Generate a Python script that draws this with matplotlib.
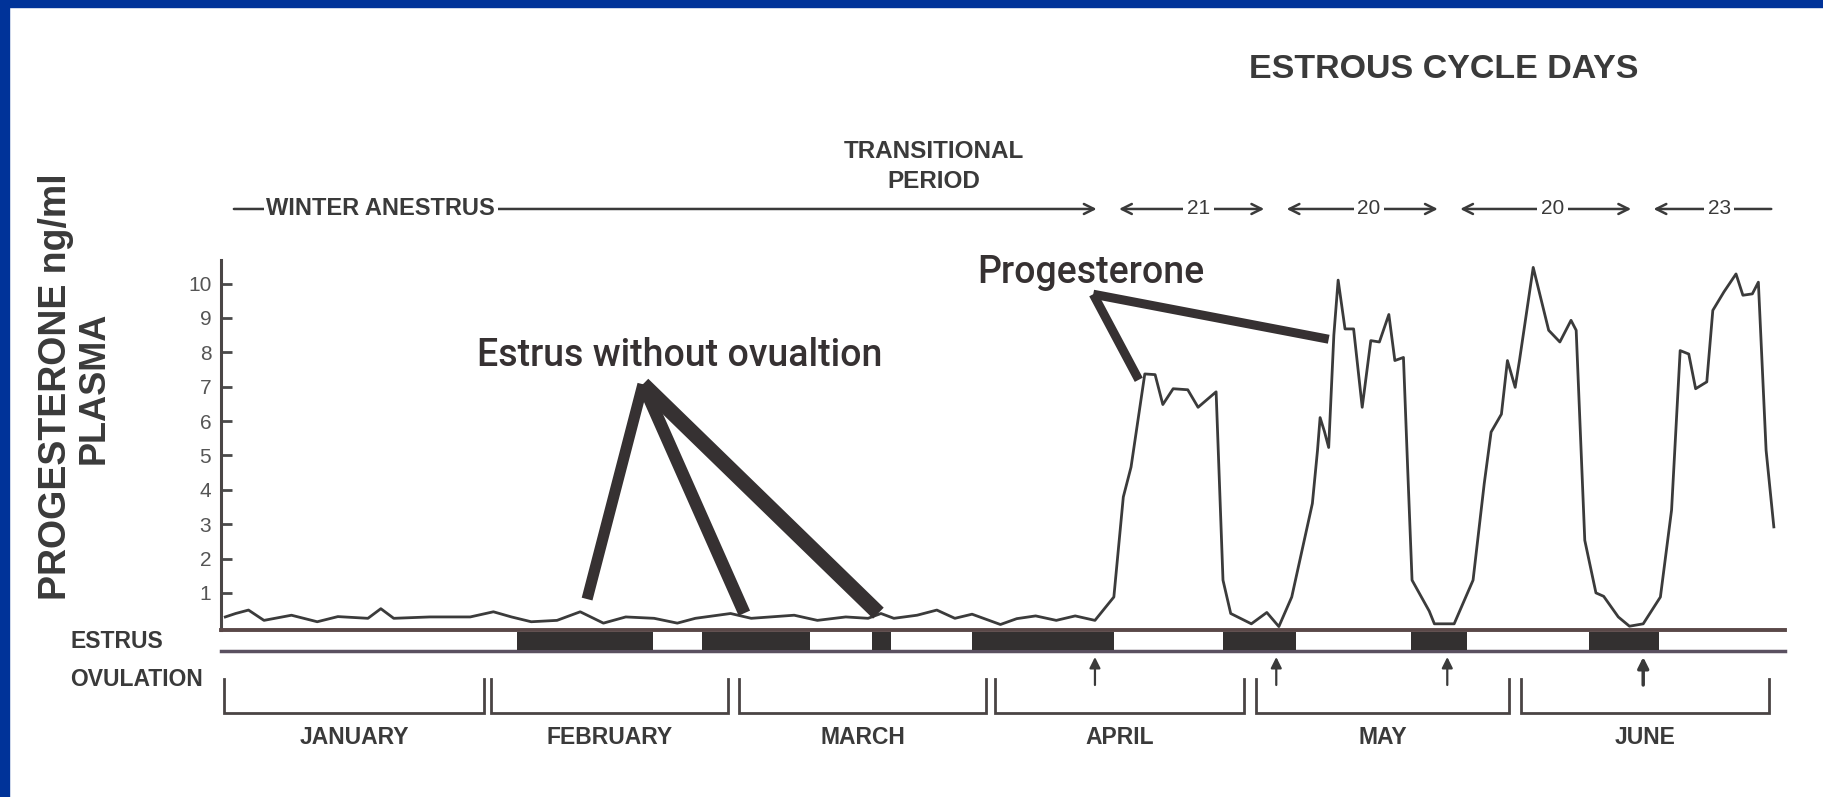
import matplotlib.pyplot as plt
from matplotlib.patches import Rectangle

# progesterone (ng/ml) by day, Jan 1 = day 0
days = [0.5, 1.7, 3.2, 5.0, 8.2, 11.2, 13.6, 17.1, 18.6, 20.1, 24.3, 29.0,
        31.7, 33.8, 36.1, 39.1, 41.8, 44.5, 47.1, 50.4, 53.1, 55.2, 59.3,
        61.7, 66.7, 69.4, 72.7, 75.3, 76.8, 78.3, 81.0, 83.3, 85.4, 87.4,
        90.7, 92.6, 94.8, 97.2, 99.4, 101.7, 103.9, 105.0, 105.9, 107.5,
        108.7, 109.6, 110.8, 112.5, 113.7, 115.8, 116.6, 117.5, 119.9,
        121.7, 123.1, 124.6, 127.0, 127.6, 127.9, 128.4, 128.9, 129.5,
        130.0, 130.8, 131.8, 132.8, 133.8, 134.8, 135.9, 136.6, 137.6,
        138.1, 138.6, 140.6, 141.2, 143.5, 145.7, 147.0, 147.8, 149.0,
        149.7, 150.6, 151.1, 152.7, 154.5, 155.8, 157.1, 157.7, 158.7,
        160.0, 160.9, 162.6, 163.9, 165.5, 167.5, 168.8, 169.8, 170.8,
        171.6, 172.9, 173.6, 174.9, 176.3, 177.1, 178.2, 178.9, 179.8, 180.7]
progesterone = [0.3, 0.4, 0.5, 0.2, 0.35, 0.16, 0.31, 0.26, 0.54, 0.26, 0.3, 0.3,
                0.45, 0.3, 0.16, 0.2, 0.45, 0.12, 0.3, 0.26, 0.12, 0.26, 0.4,
                0.26, 0.35, 0.2, 0.3, 0.26, 0.4, 0.26, 0.35, 0.5, 0.26, 0.38,
                0.08, 0.25, 0.33, 0.2, 0.33, 0.2, 0.88, 3.79, 4.66, 7.37,
                7.35, 6.48, 6.94, 6.91, 6.4, 6.85, 1.37, 0.4, 0.1,
                0.43, 0.02, 0.88, 3.6, 5.15, 6.1, 5.7, 5.23, 8.5,
                10.1, 8.68, 8.68, 6.4, 8.34, 8.3, 9.1, 7.76, 7.85,
                4.56, 1.37, 0.47, 0.1, 0.1, 1.37, 4.18, 5.68, 6.2,
                7.76, 6.98, 7.76, 10.47, 8.64, 8.3, 8.93, 8.64, 2.53,
                1.0, 0.9, 0.3, 0.03, 0.1, 0.88, 3.41, 8.05, 7.95,
                6.94, 7.14, 9.22, 9.76, 10.28, 9.66, 9.7, 10.04, 5.15, 2.92]

# estrus periods (start, end day)
estrus_start = [34.4, 56.0, 75.8, 87.4, 116.6, 138.5, 159.2]
estrus_end = [50.3, 68.5, 78.0, 103.9, 125.1, 145.0, 167.3]

ovulation_days = [101.7, 122.8, 142.7, 165.5]

months = ['JANUARY', 'FEBRUARY', 'MARCH', 'APRIL', 'MAY', 'JUNE']
month_lo = [0.4, 31.4, 60.3, 90.1, 120.4, 151.3]
month_hi = [30.6, 59.0, 89.0, 119.0, 149.9, 180.1]

cycle_bounds = [103.2, 122.7, 142.9, 165.4, 181.7]
cycle_days = ['21', '20', '20', '23']

# pointer lines (day, ng/ml)
estrus_hub = (49.1, 7.07)
estrus_tips = [(42.6, 0.82), (60.9, 0.41), (76.5, 0.41)]
prog_hub = (101.5, 9.69)
prog_tips = [(106.8, 7.2), (128.9, 8.38)]

W, H = 1823, 797
INK = '#363132'
TXT = '#3a3a3a'


def fx(px):
    return px / W


def fy(py):
    return 1 - py / H


fig = plt.figure(figsize=(W / 100, H / 100), dpi=100)
fig.patch.set_facecolor('white')
ax = fig.add_axes([fx(221), fy(630), (1785 - 221) / W, (630 - 259.5) / H])
ax.set_xlim(0, 182)
ax.set_ylim(-0.08, 10.7)

ax.plot(days, progesterone, color='#3b3b3b', lw=2.0, zorder=4)

for s in ['top', 'right']:
    ax.spines[s].set_visible(False)
ax.spines['left'].set_linewidth(2.2)
ax.spines['left'].set_color('#4a4646')
ax.spines['bottom'].set_linewidth(2.8)
ax.spines['bottom'].set_color('#5a4848')
ax.set_xticks([])
ax.set_yticks(range(1, 11))
ax.tick_params(axis='y', direction='in', length=8, width=2, colors='#4a4a4a',
               labelsize=15, pad=7, labelcolor='#555555')
for t in ax.get_yticklabels():
    t.set_family('Liberation Sans')

# estrus band
ax.plot([0, 182], [-0.69, -0.69], color='#5a5060', lw=2.5, clip_on=False)
ax.bar(estrus_start, 0.524,
       width=[e - s for s, e in zip(estrus_start, estrus_end)],
       bottom=-0.662, align='edge', color='#333030',
       clip_on=False, zorder=3)

# ovulation arrows
for i, d in enumerate(ovulation_days):
    ax.annotate('', xy=(d, -0.866), xytext=(d, -1.68),
                arrowprops=dict(arrowstyle='-|>', color='#3a3a3a',
                                lw=2.5 if i == 3 else 1.6, mutation_scale=16,
                                shrinkA=0, shrinkB=0),
                annotation_clip=False)

# month brackets
for name, lo, hi in zip(months, month_lo, month_hi):
    ax.plot([lo, lo, hi, hi], [-1.506, -2.495, -2.495, -1.506],
            color='#4a4444', lw=2.0, clip_on=False, solid_joinstyle='miter')
    ax.text((lo + hi) / 2, -3.22, name, ha='center', va='center',
            fontsize=16.5, fontweight='bold', color=TXT,
            family='Liberation Sans')

# pointer lines
for (x, y), lw in zip(estrus_tips, [8, 9, 11]):
    ax.plot([estrus_hub[0], x], [estrus_hub[1], y], color=INK, lw=lw,
            solid_capstyle='butt', zorder=5)
for x, y in prog_tips:
    ax.plot([prog_hub[0], x], [prog_hub[1], y], color=INK, lw=6.5,
            solid_capstyle='butt', zorder=5)

ax.text(29.8, 7.6, 'Estrus without ovualtion', fontsize=27, color=INK,
        family='Roboto', fontweight='medium', va='baseline', ha='left')
ax.text(88.0, 10.01, 'Progesterone', fontsize=27, color=INK,
        family='Roboto', fontweight='medium', va='baseline', ha='left',
        clip_on=False)

# period arrows across the top
ytop = 12.17
arrow_kw = dict(color='#3a3a3a', lw=1.8, shrinkA=0, shrinkB=0)
ax.annotate('', xy=(cycle_bounds[0] - 1.3, ytop), xytext=(1.5, ytop),
            arrowprops=dict(arrowstyle='->', mutation_scale=18, **arrow_kw),
            annotation_clip=False)
ax.text(18.6, ytop, 'WINTER ANESTRUS', ha='center', va='center',
        fontsize=17, fontweight='bold', color=TXT, family='Liberation Sans',
        bbox=dict(facecolor='white', edgecolor='none', pad=2), zorder=6)
for i, lab in enumerate(cycle_days):
    a, b = cycle_bounds[i] + 1.3, cycle_bounds[i + 1] - 1.3
    style = '<->' if i < len(cycle_days) - 1 else '<-'
    ax.annotate('', xy=(b, ytop), xytext=(a, ytop),
                arrowprops=dict(arrowstyle=style, mutation_scale=18, **arrow_kw),
                annotation_clip=False)
    ax.text((a + b) / 2 + 0.8, ytop, lab, ha='center', va='center',
            fontsize=15, color=TXT, family='Liberation Sans',
            bbox=dict(facecolor='white', edgecolor='none', pad=2.5), zorder=6)

# static labels
fig.text(fx(934), fy(151), 'TRANSITIONAL', ha='center', va='center',
         fontsize=17.5, fontweight='bold', color=TXT, family='Liberation Sans')
fig.text(fx(934), fy(182), 'PERIOD', ha='center', va='center',
         fontsize=17.5, fontweight='bold', color=TXT, family='Liberation Sans')
fig.text(fx(1444), fy(69), 'ESTROUS CYCLE DAYS', ha='center', va='center',
         fontsize=24.5, fontweight='bold', color=TXT, family='Liberation Sans')
fig.text(fx(56), fy(387), 'PROGESTERONE ng/ml', rotation=90, ha='center',
         va='center', fontsize=27, fontweight='bold', color=TXT,
         family='Liberation Sans')
fig.text(fx(94), fy(388), 'PLASMA', rotation=90, ha='center', va='center',
         fontsize=26, fontweight='bold', color=TXT, family='Liberation Sans')
fig.text(fx(70), fy(641), 'ESTRUS', ha='left', va='center', fontsize=16.5,
         fontweight='bold', color=TXT, family='Liberation Sans')
fig.text(fx(70), fy(679), 'OVULATION', ha='left', va='center', fontsize=16.5,
         fontweight='bold', color=TXT, family='Liberation Sans')

# slide frame
fig.add_artist(Rectangle((0, fy(7)), 1, 7 / H, transform=fig.transFigure,
                         color='#003399', zorder=10))
fig.add_artist(Rectangle((0, 0), 9 / W, 1, transform=fig.transFigure,
                         color='#003399', zorder=10))

fig.savefig('out.png', dpi=100)
